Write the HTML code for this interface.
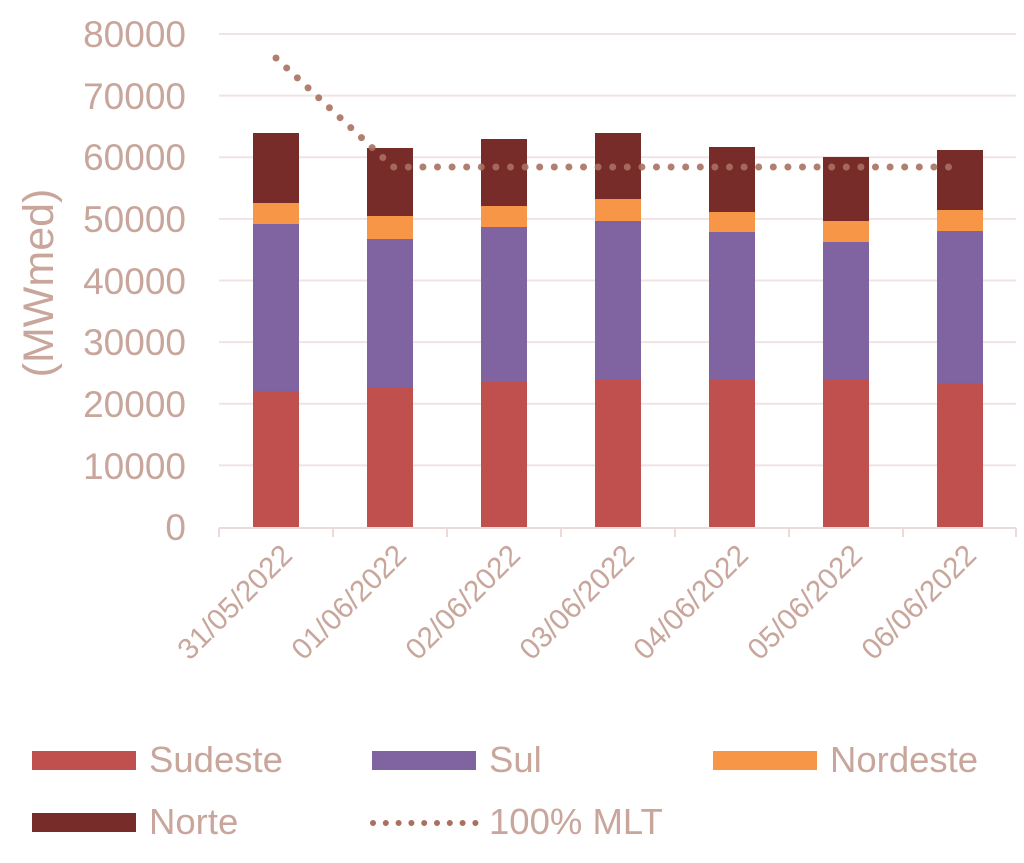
<!DOCTYPE html>
<html><head><style>
html,body{margin:0;padding:0;background:#fff;width:1024px;height:863px;overflow:hidden}
svg text{font-family:"Liberation Sans",sans-serif;fill:#c8a69b}
</style></head><body>
<svg width="1024" height="863" xmlns="http://www.w3.org/2000/svg">
<g stroke="#f1e3e3" stroke-width="2">
<line x1="219" x2="1016" y1="34" y2="34"/>
<line x1="219" x2="1016" y1="95.6" y2="95.6"/>
<line x1="219" x2="1016" y1="157.2" y2="157.2"/>
<line x1="219" x2="1016" y1="218.9" y2="218.9"/>
<line x1="219" x2="1016" y1="280.5" y2="280.5"/>
<line x1="219" x2="1016" y1="342.1" y2="342.1"/>
<line x1="219" x2="1016" y1="403.7" y2="403.7"/>
<line x1="219" x2="1016" y1="465.4" y2="465.4"/>
</g>
<g font-size="37" text-anchor="end">
<text x="186" y="47">80000</text>
<text x="186" y="109">70000</text>
<text x="186" y="170">60000</text>
<text x="186" y="232">50000</text>
<text x="186" y="294">40000</text>
<text x="186" y="355">30000</text>
<text x="186" y="417">20000</text>
<text x="186" y="479">10000</text>
<text x="186" y="540">0</text>
</g>
<text font-size="43" text-anchor="middle" transform="translate(53,283) rotate(-90)">(MWmed)</text>
<g id="bars">
<rect x="253" y="391" width="46" height="136" fill="#c0504d"/><rect x="253" y="224" width="46" height="167" fill="#8064a2"/><rect x="253" y="203" width="46" height="21" fill="#f79646"/><rect x="253" y="133" width="46" height="70" fill="#772c2a"/>
<rect x="367" y="387" width="46" height="140" fill="#c0504d"/><rect x="367" y="239" width="46" height="148" fill="#8064a2"/><rect x="367" y="216" width="46" height="23" fill="#f79646"/><rect x="367" y="148" width="46" height="68" fill="#772c2a"/>
<rect x="481" y="382" width="46" height="145" fill="#c0504d"/><rect x="481" y="227" width="46" height="155" fill="#8064a2"/><rect x="481" y="206" width="46" height="21" fill="#f79646"/><rect x="481" y="139" width="46" height="67" fill="#772c2a"/>
<rect x="595" y="380" width="46" height="147" fill="#c0504d"/><rect x="595" y="221" width="46" height="159" fill="#8064a2"/><rect x="595" y="199" width="46" height="22" fill="#f79646"/><rect x="595" y="133" width="46" height="66" fill="#772c2a"/>
<rect x="709" y="379" width="46" height="148" fill="#c0504d"/><rect x="709" y="232" width="46" height="147" fill="#8064a2"/><rect x="709" y="212" width="46" height="20" fill="#f79646"/><rect x="709" y="147" width="46" height="65" fill="#772c2a"/>
<rect x="823" y="380" width="46" height="147" fill="#c0504d"/><rect x="823" y="242" width="46" height="138" fill="#8064a2"/><rect x="823" y="221" width="46" height="21" fill="#f79646"/><rect x="823" y="157" width="46" height="64" fill="#772c2a"/>
<rect x="937" y="383" width="46" height="144" fill="#c0504d"/><rect x="937" y="231" width="46" height="152" fill="#8064a2"/><rect x="937" y="210" width="46" height="21" fill="#f79646"/><rect x="937" y="150" width="46" height="60" fill="#772c2a"/>
</g>
<g stroke="#eadada" stroke-width="2">
<line x1="219" x2="1016" y1="528" y2="528"/>
<line x1="219" x2="219" y1="528" y2="537"/><line x1="333" x2="333" y1="528" y2="537"/><line x1="447" x2="447" y1="528" y2="537"/><line x1="561" x2="561" y1="528" y2="537"/><line x1="675" x2="675" y1="528" y2="537"/><line x1="789" x2="789" y1="528" y2="537"/><line x1="903" x2="903" y1="528" y2="537"/><line x1="1016" x2="1016" y1="528" y2="537"/>
</g>
<polyline points="276,58 393,167 950,167" fill="none" stroke="#a8705f" stroke-opacity="0.9" stroke-width="7" stroke-linecap="round" stroke-dasharray="0 14.6"/>
<g font-size="29.5" text-anchor="end">
<text transform="translate(294,557) rotate(-45)">31/05/2022</text>
<text transform="translate(408,557) rotate(-45)">01/06/2022</text>
<text transform="translate(522,557) rotate(-45)">02/06/2022</text>
<text transform="translate(636,557) rotate(-45)">03/06/2022</text>
<text transform="translate(750,557) rotate(-45)">04/06/2022</text>
<text transform="translate(864,557) rotate(-45)">05/06/2022</text>
<text transform="translate(978,557) rotate(-45)">06/06/2022</text>
</g>
<rect x="32" y="751" width="104" height="19" fill="#c0504d"/>
<rect x="372" y="751" width="104" height="19" fill="#8064a2"/>
<rect x="713" y="751" width="104" height="19" fill="#f79646"/>
<rect x="32" y="813" width="104" height="19" fill="#772c2a"/>
<line x1="373" x2="476" y1="823" y2="823" stroke="#a8705f" stroke-width="6" stroke-linecap="round" stroke-dasharray="0 12.8"/>
<g font-size="36.5">
<text x="149" y="772">Sudeste</text>
<text x="489" y="772">Sul</text>
<text x="830" y="772">Nordeste</text>
<text x="149" y="834">Norte</text>
<text x="489" y="834">100% MLT</text>
</g>
</svg>
</body></html>
